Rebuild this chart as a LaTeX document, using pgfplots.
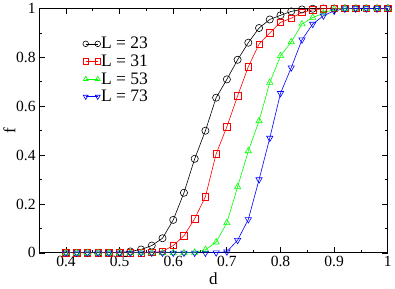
\documentclass[border=0pt]{standalone}
\usepackage{fontspec}
\setmainfont{Liberation Serif}
\usepackage{pgfplots}
\pgfplotsset{compat=1.18}
\definecolor{xgreen}{RGB}{0,255,0}
\definecolor{xred}{RGB}{255,0,0}
\definecolor{xblue}{RGB}{0,0,255}
\begin{document}
\begin{tikzpicture}
\begin{axis}[
  scale only axis,
  width=348pt, height=244pt,
  xmin=0.35, xmax=1.0, ymin=0, ymax=1,
  xtick={0.4,0.5,0.6,0.7,0.8,0.9,1},
  xticklabels={0.4,0.5,0.6,0.7,0.8,0.9,1},
  ytick={0,0.2,0.4,0.6,0.8,1},
  yticklabels={0,0.2,0.4,0.6,0.8,1},
  minor xtick={0.35,0.45,0.55,0.65,0.75,0.85,0.95},
  minor ytick={0.1,0.3,0.5,0.7,0.9},
  tick align=inside,
  major tick length=6pt, minor tick length=3pt,
  axis line style={line width=1pt},
  every tick/.style={line width=0.8pt, black},
  tick label style={font=\fontsize{15.5}{18}\selectfont},
  label style={font=\fontsize{17}{20}\selectfont},
  xlabel={d}, ylabel={f},
  xlabel style={yshift=1pt},
  ylabel style={yshift=-6pt},
  legend style={draw=none, fill=none, at={(0.125,0.885)}, anchor=north west,
    font=\fontsize{17.5}{17}\selectfont, row sep=3.5pt, inner sep=0pt,
    nodes={inner sep=0.5pt}},
  legend cell align=left,
  legend image code/.code={\draw[#1, mark size=2.8pt] plot coordinates {(0pt,0pt) (12pt,0pt)};},
  every axis plot/.append style={line width=0.6pt, mark size=3.6pt},
]
\addplot[black, mark=o] coordinates {
(0.40,0)(0.42,0)(0.44,0)(0.46,0)(0.48,0)(0.50,0.002)(0.52,0.006)(0.54,0.014)(0.56,0.03)(0.58,0.06)
(0.60,0.135)(0.62,0.246)(0.64,0.385)(0.66,0.50)(0.68,0.635)(0.70,0.71)(0.72,0.79)(0.74,0.86)(0.76,0.92)(0.78,0.955)
(0.80,0.972)(0.82,0.988)(0.84,0.996)(0.86,0.999)(0.88,1)(0.90,1)(0.92,1)(0.94,1)(0.96,1)(0.98,1)(1.00,1)};
\addlegendentry{L = 23}
\addplot[xred, mark=square, mark size=3.2pt] coordinates {
(0.40,0)(0.42,0)(0.44,0)(0.46,0)(0.48,0)(0.50,0)(0.52,0)(0.54,0)(0.56,0.002)(0.58,0.006)
(0.60,0.03)(0.62,0.07)(0.64,0.14)(0.66,0.23)(0.68,0.405)(0.70,0.516)(0.72,0.642)(0.74,0.762)(0.76,0.854)(0.78,0.90)
(0.80,0.943)(0.82,0.96)(0.84,0.984)(0.86,0.994)(0.88,0.999)(0.90,1)(0.92,1)(0.94,1)(0.96,1)(0.98,1)(1.00,1)};
\addlegendentry{L = 31}
\addplot[xgreen, mark=triangle] coordinates {
(0.40,0)(0.42,0)(0.44,0)(0.46,0)(0.48,0)(0.50,0)(0.52,0)(0.54,0)(0.56,0)(0.58,0)
(0.60,0)(0.62,0)(0.64,0.002)(0.66,0.013)(0.68,0.044)(0.70,0.123)(0.72,0.27)(0.74,0.417)(0.76,0.54)(0.78,0.697)
(0.80,0.806)(0.82,0.863)(0.84,0.936)(0.86,0.963)(0.88,0.98)(0.90,0.998)(0.92,1)(0.94,1)(0.96,1)(0.98,1)(1.00,1)};
\addlegendentry{L = 53}
\addplot[xblue, mark=triangle, every mark/.append style={rotate=180}] coordinates {
(0.40,0)(0.42,0)(0.44,0)(0.46,0)(0.48,0)(0.50,0)(0.52,0)(0.54,0)(0.56,0)(0.58,0)
(0.60,0)(0.62,0)(0.64,0)(0.66,0)(0.68,0.001)(0.70,0.005)(0.72,0.052)(0.74,0.137)(0.76,0.30)(0.78,0.47)
(0.80,0.653)(0.82,0.758)(0.84,0.872)(0.86,0.936)(0.88,0.97)(0.90,0.99)(0.92,0.999)(0.94,1)(0.96,1)(0.98,1)(1.00,1)};
\addlegendentry{L = 73}
\end{axis}
\end{tikzpicture}
\end{document}
